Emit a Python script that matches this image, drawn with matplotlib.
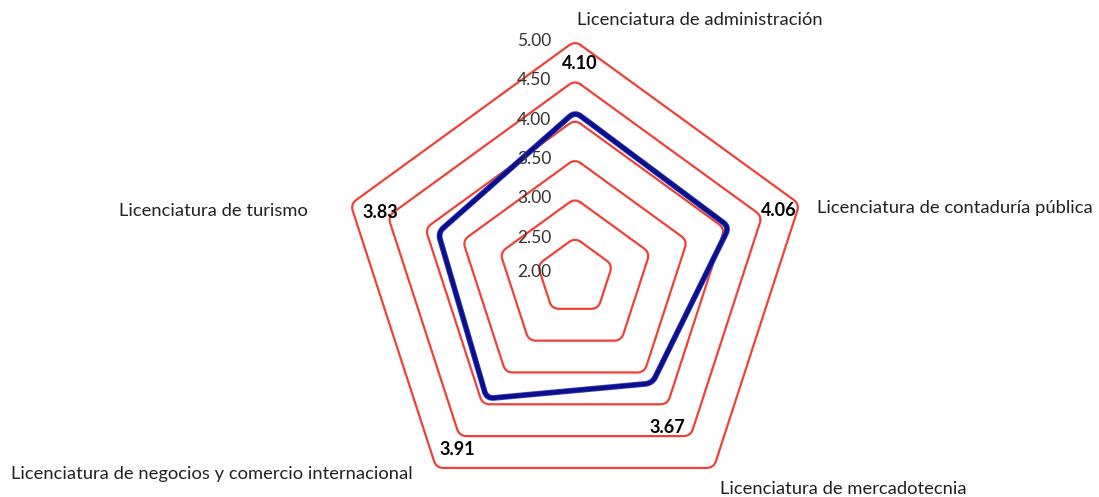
import numpy as np
import matplotlib
matplotlib.use("Agg")
import matplotlib.pyplot as plt
from matplotlib.path import Path
from matplotlib.patches import PathPatch

categories = ["Licenciatura de administración",
              "Licenciatura de contaduría pública",
              "Licenciatura de mercadotecnia",
              "Licenciatura de negocios y comercio internacional",
              "Licenciatura de turismo"]
values = [4.10, 4.06, 3.67, 3.91, 3.83]
grid_levels = [2.50, 3.00, 3.50, 4.00, 4.50, 5.00]
tick_labels = ["2.00", "2.50", "3.00", "3.50", "4.00", "4.50", "5.00"]
r_min, r_max = 2.0, 5.0

plt.rcParams['font.family'] = ['Lato', 'DejaVu Sans']

W, H = 1099, 497
fig = plt.figure(figsize=(W / 100, H / 100), dpi=100)
ax = fig.add_axes([0, 0, 1, 1])
ppu = 236 / (r_max - r_min)      # pixels per unit
cx, cy = 575, 277                 # centre in pixels (from top)
ax.set_xlim(-cx / ppu, (W - cx) / ppu)
ax.set_ylim(-(H - cy) / ppu, cy / ppu)
ax.axis("off")

n = len(categories)
angles = np.arange(n) * 2 * np.pi / n   # clockwise from top


def xy(val, ang):
    r = val - r_min
    return r * np.sin(ang), r * np.cos(ang)


def rounded_poly(vals, d=0.09):
    pts = np.array([xy(v, a) for v, a in zip(vals, angles)])
    m = len(pts)
    verts, codes = [], []
    for i in range(m + 1):
        k = i % m
        v = pts[k]
        prev = pts[k - 1]
        nxt = pts[(k + 1) % m]
        pin = v + d * (prev - v) / np.linalg.norm(prev - v)
        pout = v + d * (nxt - v) / np.linalg.norm(nxt - v)
        if i == 0:
            verts.append(pout); codes.append(Path.MOVETO)
        else:
            verts += [pin, v, pout]
            codes += [Path.LINETO, Path.CURVE3, Path.CURVE3]
    return Path(verts, codes)


red = "#ef4136"
for lv in grid_levels:
    ax.add_patch(PathPatch(rounded_poly([lv] * n), fill=False, edgecolor=red,
                           lw=1.6, joinstyle="round", capstyle="round"))

ax.add_patch(PathPatch(rounded_poly(values), fill=False, edgecolor="#3a46b8",
                       lw=4.2, joinstyle="round"))
ax.add_patch(PathPatch(rounded_poly(values), fill=False, edgecolor="#0a0f8c",
                       lw=3.0, joinstyle="round"))

# radial tick labels
for i, t in enumerate(tick_labels):
    v = float(t)
    y = (v - r_min) + (0.06 if i == 0 else 0.0)
    ax.text(-0.3, y, t, ha="right", va="center", fontsize=12.5,
            color="#333333")

# value labels (positioned via radius/angle offsets)
lab_r = [4.72, 4.72, 4.24, 4.65, 4.60]
lab_da = [0.02, 0.0, 0.08, -0.03, 0.005]
for v, a, r, da in zip(values, angles, lab_r, lab_da):
    x, y = xy(r, a + da)
    ax.text(x, y, f"{v:.2f}", ha="center", va="center", fontsize=13,
            fontweight="bold", color="black")

# category labels
cat_off = [(0.03, 3.27, "left"), (3.08, 0.88, "left"), (1.84, -2.69, "left"),
           (-2.06, -2.5, "right"), (-3.4, 0.84, "right")]
for c, (x, y, ha) in zip(categories, cat_off):
    ax.text(x, y, c, ha=ha, va="center", fontsize=13.2, color="#222222")

fig.savefig("out.png", dpi=100)
